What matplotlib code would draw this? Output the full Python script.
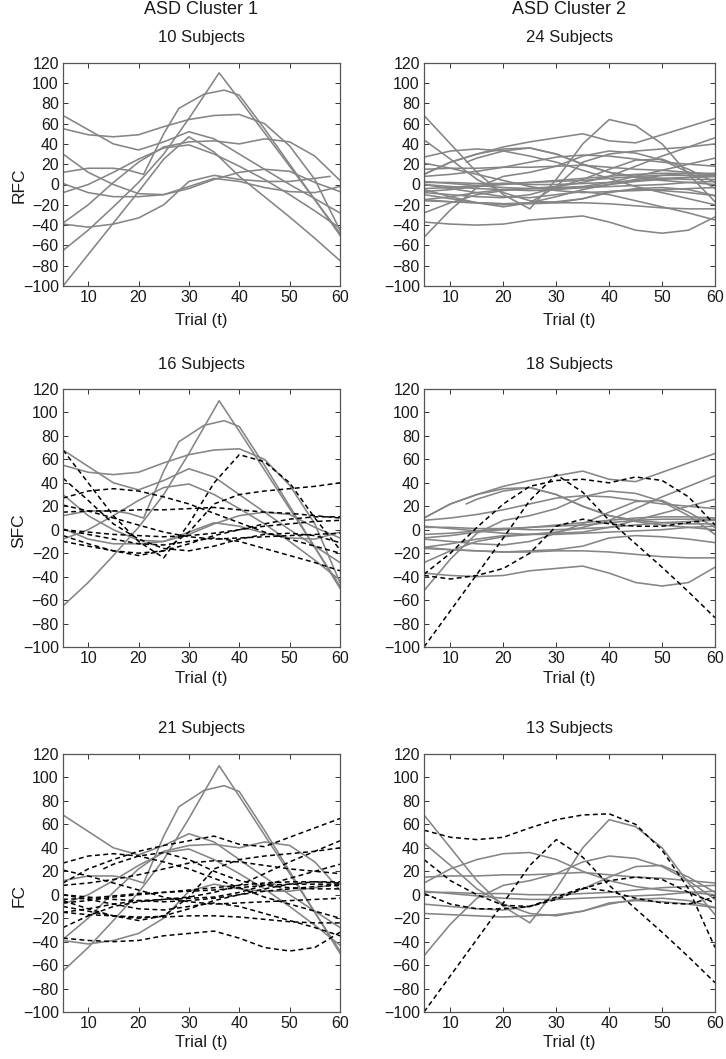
import matplotlib
matplotlib.use("Agg")
import matplotlib.pyplot as plt

plt.rcParams["font.family"] = ["Liberation Sans", "DejaVu Sans"]

TRIALS = [5, 10, 15, 20, 25, 30, 35, 40, 45, 50, 55, 60]

# ---- subjects in RFC cluster 1 (10) ----
r01_x = [5, 10, 15, 20, 25, 30, 36, 40, 45, 50, 55, 60]
r01 = [-65, -45, -22, 2, 30, 65, 110, 84, 51, 18, -15, -48]
r02_x = [5, 10, 15, 18, 21, 25, 28, 33, 37, 40, 45, 50, 55, 60]
r02 = [12, 16, 16, 14, 10, 50, 75, 89, 93, 88, 55, 20, -15, -50]
r03 = [55, 49, 47, 49, 57, 64, 68, 69, 60, 38, 5, -45]
r04 = [68, 54, 40, 34, 42, 52, 45, 30, 15, 0, -14, -28]
r05 = [-100, -69, -38, -7, 25, 47, 32, 8, -12, -32, -53, -75]
r06_x = [5, 10, 15, 20, 25, 30, 35, 40, 45, 50, 55, 58]
r06 = [-39, -42, -39, -33, -20, 3, 9, 5, 3, 3, 6, 8]
r07 = [-38, -20, 2, 22, 37, 42, 43, 40, 45, 42, 28, 4]
r08 = [30, 12, 0, -9, -10, -4, 5, 12, 15, 13, 2, -7]
r09 = [1, -8, -12, -12, -10, -2, 6, 3, -3, -7, -8, -2]
r10 = [-8, 0, 12, 25, 36, 39, 30, 18, 5, -10, -26, -43]

# ---- subjects in RFC cluster 2 (24) ----
b01 = [68, 40, 12, -10, -24, 5, 40, 64, 58, 40, 10, -17]
b02 = [10, 22, 30, 37, 42, 46, 50, 43, 41, 49, 57, 65]
b03 = [-37, -39, -40, -39, -35, -33, -31, -37, -45, -48, -45, -32]
b04 = [-52, -25, -3, 8, 12, 18, 28, 33, 31, 24, 12, -4]
b05 = [-28, -18, -10, -6, -4, -2, 2, 8, 18, 28, 37, 46]
b06 = [44, 25, 5, -8, -16, -18, -14, -8, -4, -3, -5, -11]
b07_x = [13, 15, 20, 25, 30, 35, 40, 45, 50, 55, 60]
b07 = [22, 26, 33, 36, 30, 20, 12, 8, 6, 5, 5]
b08 = [10, 22, 30, 35, 36, 30, 20, 12, 7, 4, 2, 0]
b09 = [-15, -12, -8, -5, -4, -3, -2, 2, 8, 14, 20, 26]
b10 = [15, 16, 16, 17, 17, 18, 19, 17, 15, 14, 12, 10]
b11 = [27, 33, 35, 33, 28, 22, 14, 6, -2, -8, -14, -20]
b12 = [2, 2, 1, 1, 0, 0, 1, 2, 4, 6, 7, 8]
b13 = [0, -2, -4, -5, -6, -5, -3, 0, 3, 5, 7, 8]
b14 = [-4, -3, -1, 1, 2, 3, 4, 6, 8, 9, 9, 9]
b15 = [-7, -5, -2, 0, 2, 4, 6, 8, 10, 11, 11, 10]
b16 = [-10, -14, -18, -20, -18, -12, -5, 0, 5, 9, 11, 11]
b17 = [-8, -10, -12, -13, -10, -3, 5, 15, 24, 25, 15, 2]
b18 = [-15, -17, -18, -19, -19, -18, -18, -19, -21, -23, -24, -24]
b19 = [-16, -17, -18, -19, -18, -17, -14, -7, -5, -6, -8, -11]
b20 = [21, 16, 10, 4, -2, -6, -8, -7, -6, -5, -4, -3]
b21 = [8, 10, 13, 17, 22, 27, 29, 28, 25, 22, 20, 18]
b22 = [-5, -12, -18, -22, -18, -2, 22, 30, 33, 35, 37, 40]
b23 = [0, -4, -8, -12, -13, -10, -7, -10, -16, -22, -28, -35]
b24 = [3, 1, -1, -3, -4, -4, -3, -2, -1, 0, 2, 3]

subjects = [
    (r01_x, r01), (r02_x, r02), (TRIALS, r03), (TRIALS, r04), (TRIALS, r05),
    (r06_x, r06), (TRIALS, r07), (TRIALS, r08), (TRIALS, r09), (TRIALS, r10),
    (TRIALS, b01), (TRIALS, b02), (TRIALS, b03), (TRIALS, b04), (TRIALS, b05),
    (TRIALS, b06), (b07_x, b07), (TRIALS, b08), (TRIALS, b09), (TRIALS, b10),
    (TRIALS, b11), (TRIALS, b12), (TRIALS, b13), (TRIALS, b14), (TRIALS, b15),
    (TRIALS, b16), (TRIALS, b17), (TRIALS, b18), (TRIALS, b19), (TRIALS, b20),
    (TRIALS, b21), (TRIALS, b22), (TRIALS, b23), (TRIALS, b24),
]

# cluster label of every subject under each feature set
rfc_labels = [1] * 10 + [2] * 24
sfc_labels = [1, 1, 1, 1, 2, 2, 2, 1, 1, 1,
              1, 2, 2, 2, 2, 1, 2, 2, 2, 1, 1, 2, 1, 2, 2, 1, 2, 2, 2, 1, 2, 1, 1, 2]
fc_labels = [1, 1, 2, 1, 2, 1, 1, 2, 2, 1,
             2, 1, 1, 2, 1, 2, 1, 2, 1, 2, 1, 2, 1, 1, 1, 1, 2, 1, 2, 1, 1, 1, 1, 2]

row_names = ["RFC", "SFC", "FC"]
row_labels = [rfc_labels, sfc_labels, fc_labels]

W, H = 726, 1059
col_x = [(63, 340), (424, 715)]
row_y = [(62.7, 286), (389, 647), (754, 1012)]

TXT = "#1a1a1a"
GRAY = "#858585"

fig = plt.figure(figsize=(W / 100, H / 100), dpi=100)

for r in range(3):
    for c in range(2):
        x0, x1 = col_x[c]
        y0, y1 = row_y[r]
        ax = fig.add_axes([x0 / W, 1 - y1 / H, (x1 - x0) / W, (y1 - y0) / H])
        k = c + 1
        members = [i for i, lab in enumerate(row_labels[r]) if lab == k]
        same = [i for i in members if rfc_labels[i] == k]
        moved = [i for i in members if rfc_labels[i] != k]
        for i in same:
            xs, ys = subjects[i]
            ax.plot(xs, ys, color=GRAY, lw=1.15)
        for i in moved:
            xs, ys = subjects[i]
            ax.plot(xs, ys, color="black", lw=1.1, ls="--", dashes=(3.2, 2.2))

        ax.set_xlim(5, 60)
        ax.set_ylim(-100, 120)
        ax.set_xticks(range(10, 61, 10))
        ax.set_yticks(range(-100, 121, 20))
        ax.tick_params(direction="in", top=True, right=True, length=3.5,
                       width=0.7, labelsize=11.5, colors="#333333",
                       labelcolor=TXT, pad=3)
        for s in ax.spines.values():
            s.set_color("#555555")
            s.set_linewidth(0.9)

        h = y1 - y0
        ax.text(0.5, 1 + 25 / h, f"{len(members)} Subjects", transform=ax.transAxes,
                ha="center", va="center", fontsize=12, color=TXT)
        ax.set_xlabel("Trial (t)", fontsize=12, color=TXT)
        ax.xaxis.set_label_coords(0.5, -(34 if r == 0 else 31) / h)
        ax.xaxis.label.set_va("center")
        if c == 0:
            ax.set_ylabel(row_names[r], fontsize=12.5, color=TXT)
            ax.yaxis.set_label_coords(-0.159, 0.45)
            ax.yaxis.label.set_va("center")
        if r == 0:
            fig.text((x0 + x1) / 2 / W, 1 - 10 / H, f"ASD Cluster {k}",
                     ha="center", va="center", fontsize=13, color=TXT)

fig.savefig("out.png", dpi=100, facecolor="white")
